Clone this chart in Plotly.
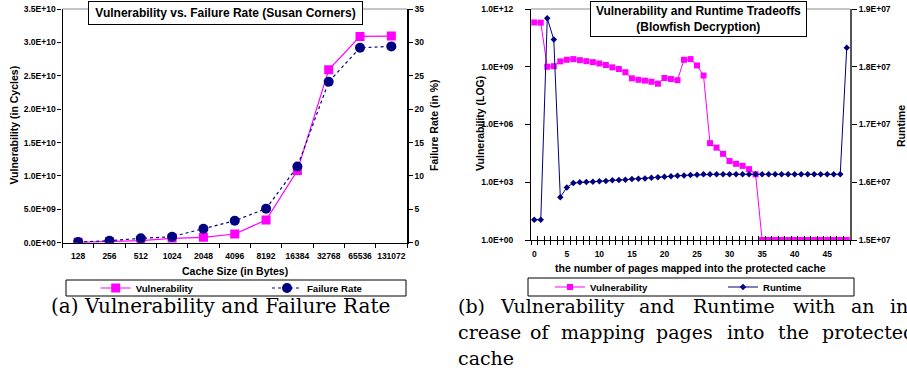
import plotly.graph_objects as go

W, H = 907, 373

# ---------------- data ----------------
cache_sizes = ["128", "256", "512", "1024", "2048", "4096", "8192", "16384", "32768", "65536", "131072"]
vuln_cache = [0.05e9, 0.15e9, 0.3e9, 0.65e9, 0.8e9, 1.3e9, 3.4e9, 10.8e9, 25.9e9, 30.9e9, 30.95e9]
failure_rate = [0.1, 0.3, 0.65, 0.9, 2.1, 3.3, 5.1, 11.4, 24.1, 29.2, 29.4]

pages = list(range(49))
vuln_pages = [2.0e11, 1.95e11, 1.0e9, 1.07e9, 1.9e9, 2.3e9, 2.5e9, 2.2e9, 1.95e9, 1.74e9,
              1.48e9, 1.23e9, 9.3e8, 7.6e8, 5.2e8, 2.5e8, 2.1e8, 1.9e8, 1.66e8, 1.32e8,
              2.6e8, 2.3e8, 2.0e8, 2.3e9, 2.5e9, 1.17e9, 3.5e8, 1.07e5, 6.3e4, 3.0e4,
              1.26e4, 9.1e3, 7.1e3, 4.8e3, 2.6e3, 1, 1, 1, 1, 1,
              1, 1, 1, 1, 1, 1, 1, 1, 1]
runtime = [1.535e7, 1.535e7, 1.884e7, 1.847e7, 1.574e7, 1.591e7, 1.5987e7, 1.5999e7, 1.6004e7, 1.6010e7,
           1.6016e7, 1.6021e7, 1.6033e7, 1.6039e7, 1.6044e7, 1.6056e7, 1.6062e7, 1.6067e7, 1.6079e7, 1.6085e7,
           1.6096e7, 1.6102e7, 1.6114e7, 1.6119e7, 1.6125e7, 1.6131e7, 1.6137e7, 1.6137e7, 1.6137e7, 1.6137e7,
           1.6137e7, 1.6137e7, 1.6137e7, 1.6137e7, 1.6137e7, 1.6137e7, 1.6137e7, 1.6137e7, 1.6137e7, 1.6137e7,
           1.6137e7, 1.6137e7, 1.6137e7, 1.6137e7, 1.6137e7, 1.6137e7, 1.6137e7, 1.6137e7, 1.833e7]

left_y_ticks = [0, 5e9, 1e10, 1.5e10, 2e10, 2.5e10, 3e10, 3.5e10]
left_y_text = ["0.0E+00", "5.0E+09", "1.0E+10", "1.5E+10", "2.0E+10", "2.5E+10", "3.0E+10", "3.5E+10"]
rate_ticks = [0, 5, 10, 15, 20, 25, 30, 35]
log_ticks = [1, 1e3, 1e6, 1e9, 1e12]
log_text = ["1.0E+00", "1.0E+03", "1.0E+06", "1.0E+09", "1.0E+12"]
rt_ticks = [1.5e7, 1.6e7, 1.7e7, 1.8e7, 1.9e7]
rt_text = ["1.5E+07", "1.6E+07", "1.7E+07", "1.8E+07", "1.9E+07"]
page_ticks = [0, 5, 10, 15, 20, 25, 30, 35, 40, 45]

MAG = "#FF00FF"
NAVY = "#000080"
SANS = "Liberation Sans, Arial, sans-serif"
SERIF = "DejaVu Serif, serif"


def px(x):
    return x / W


def py(y):
    return 1 - y / H


fig = go.Figure()

fig.add_trace(go.Scatter(x=cache_sizes, y=vuln_cache, name="Vulnerability", mode="lines+markers",
                         line=dict(color=MAG, width=1.2), marker=dict(symbol="square", size=9, color=MAG),
                         xaxis="x", yaxis="y", legend="legend"))
fig.add_trace(go.Scatter(x=cache_sizes, y=failure_rate, name="Failure Rate", mode="lines+markers",
                         line=dict(color=NAVY, width=1.2, dash="dot"), marker=dict(symbol="circle", size=10, color=NAVY),
                         xaxis="x", yaxis="y2", legend="legend2"))
fig.add_trace(go.Scatter(x=pages, y=vuln_pages, name="Vulnerability", mode="lines+markers",
                         line=dict(color=MAG, width=1), marker=dict(symbol="square", size=6, color=MAG),
                         xaxis="x2", yaxis="y3", legend="legend3"))
fig.add_trace(go.Scatter(x=pages, y=runtime, name="Runtime", mode="lines+markers",
                         line=dict(color=NAVY, width=1), marker=dict(symbol="diamond", size=5, color=NAVY),
                         xaxis="x2", yaxis="y4", legend="legend4"))
# carrier for the inner tick marks of the right chart's x axis
fig.add_trace(go.Scatter(x=[None], y=[None], showlegend=False, hoverinfo="skip",
                         xaxis="x3", yaxis="y3"))

tickfont = dict(family=SANS, size=8.5, color="black", weight="bold")
boundaries = [i - 0.5 for i in range(50)]


def leg(text_x, text_y):
    return dict(orientation="h", x=px(text_x - 45), y=py(text_y), xanchor="left", yanchor="middle",
                bgcolor="rgba(0,0,0,0)", borderwidth=0, itemwidth=30,
                font=dict(family=SANS, size=9.6, color="black", weight="bold"))


fig.update_layout(
    width=W, height=H, margin=dict(l=0, r=0, t=0, b=0, autoexpand=False),
    paper_bgcolor="white", plot_bgcolor="white",
    xaxis=dict(domain=[px(62.5), px(407)], anchor="y", type="category", range=[-0.5, 10.5],
               tickson="boundaries", ticks="outside", ticklen=4, tickcolor="black", tickangle=0,
               showline=True, linecolor="black", linewidth=1, showgrid=False, automargin=False,
               tickfont=tickfont, ticklabelstandoff=5),
    yaxis=dict(domain=[py(242.7), py(9)], anchor="x", range=[0, 3.5e10],
               tickvals=left_y_ticks, ticktext=left_y_text, ticks="outside", ticklen=4, tickcolor="black",
               showline=True, linecolor="black", linewidth=1.2, showgrid=False, zeroline=False,
               tickfont=tickfont, automargin=False),
    yaxis2=dict(overlaying="y", side="right", anchor="x", range=[0, 35],
                tickvals=rate_ticks, ticks="outside", ticklen=4, tickcolor="black",
                showline=True, linecolor="black", linewidth=1.5, showgrid=False, zeroline=False,
                tickfont=tickfont, automargin=False),
    xaxis2=dict(domain=[px(531), px(850)], anchor="y3", range=[-0.5, 48.5],
                tickvals=page_ticks, ticks="", showline=True, linecolor="black", linewidth=1.2,
                showgrid=False, zeroline=False, tickfont=tickfont, ticklabelstandoff=6, tickangle=0,
                automargin=False,
                minor=dict(tickmode="array", tickvals=boundaries, ticks="outside", ticklen=4,
                           tickcolor="black", showgrid=False)),
    xaxis3=dict(overlaying="x2", anchor="y3", range=[-0.5, 48.5], tickvals=boundaries,
                showticklabels=False, ticks="inside", ticklen=4, tickcolor="black",
                showline=False, showgrid=False, zeroline=False, automargin=False),
    yaxis3=dict(domain=[py(240), py(9)], anchor="x2", type="log", range=[0, 12],
                tickvals=log_ticks, ticktext=log_text, ticks="outside", ticklen=5, tickcolor="black",
                showline=True, linecolor="black", linewidth=1.2, showgrid=False, zeroline=False,
                tickfont=tickfont, ticklabelstandoff=10, automargin=False),
    yaxis4=dict(overlaying="y3", side="right", anchor="x2", range=[1.5e7, 1.9e7],
                tickvals=rt_ticks, ticktext=rt_text, ticks="outside", ticklen=5, tickcolor="black",
                showline=True, linecolor="#555555", linewidth=2, showgrid=False, zeroline=False,
                tickfont=tickfont, automargin=False),
    legend=leg(140.7, 288),
    legend2=leg(312, 288),
    legend3=leg(595, 287),
    legend4=leg(768, 287),
    showlegend=True,
)

shapes = [
    dict(type="line", xref="x domain", yref="y domain", x0=0, x1=1, y0=1, y1=1,
         line=dict(color="#8c8c8c", width=1)),
    dict(type="line", xref="x2 domain", yref="y3 domain", x0=0, x1=1, y0=1, y1=1,
         line=dict(color="#8c8c8c", width=1)),
    dict(type="rect", xref="paper", yref="paper", x0=px(66), x1=px(406), y0=py(296), y1=py(280),
         line=dict(color="black", width=1)),
    dict(type="rect", xref="paper", yref="paper", x0=px(528), x1=px(854), y0=py(296), y1=py(278),
         line=dict(color="black", width=1)),
]
fig.update_layout(shapes=shapes)

ann = []


def add_text(text, x, y, size, family=SANS, bold=True, angle=0, xanchor="center", **kw):
    ann.append(dict(text=text, x=px(x), y=py(y), xref="paper", yref="paper", showarrow=False,
                    xanchor=xanchor, yanchor="middle", textangle=angle,
                    font=dict(family=family, size=size, color="black", weight="bold" if bold else "normal"),
                    **kw))


# chart titles
add_text("Vulnerability vs. Failure Rate (Susan Corners)", 225.5, 12.5, 12,
         bordercolor="black", borderwidth=1, bgcolor="white", width=271, height=20, borderpad=1)
add_text("Vulnerability and Runtime Tradeoffs<br>(Blowfish Decryption)", 698.5, 18.5, 12,
         bordercolor="black", borderwidth=1, bgcolor="white", width=213, height=32, borderpad=1)

# axis titles
add_text("Vulnerability (in Cycles)", 13, 125.5, 10.5, angle=-90)
add_text("Failure Rate (in %)", 434, 125, 10.5, angle=-90)
add_text("Cache Size (in Bytes)", 235, 270.5, 10.5)
add_text("Vulnerability (LOG)", 480, 124, 10.5, angle=-90)
add_text("Runtime", 901, 126, 10.5, angle=-90)
add_text("the number of pages mapped into the protected cache", 690, 267.7, 10.5)

# captions
add_text("(a) Vulnerability and Failure Rate", 220, 306, 20, family=SERIF, bold=False)
line1 = [("(b)", 457.3), ("Vulnerability", 499.3), ("and", 638.3), ("Runtime", 692),
         ("with", 792), ("an", 850.3), ("in-", 888.7)]
line2 = [("crease", 457.3), ("of", 529.3), ("mapping", 560), ("pages", 655),
         ("into", 726.3), ("the", 777), ("protected", 821)]
line3 = [("cache", 457.3)]
for words, yy in ((line1, 306), (line2, 332), (line3, 358)):
    for w, xx in words:
        add_text(w, xx, yy, 19, family=SERIF, bold=False, xanchor="left", xshift=-1)

fig.update_layout(annotations=ann)

fig.write_html("out.html")
